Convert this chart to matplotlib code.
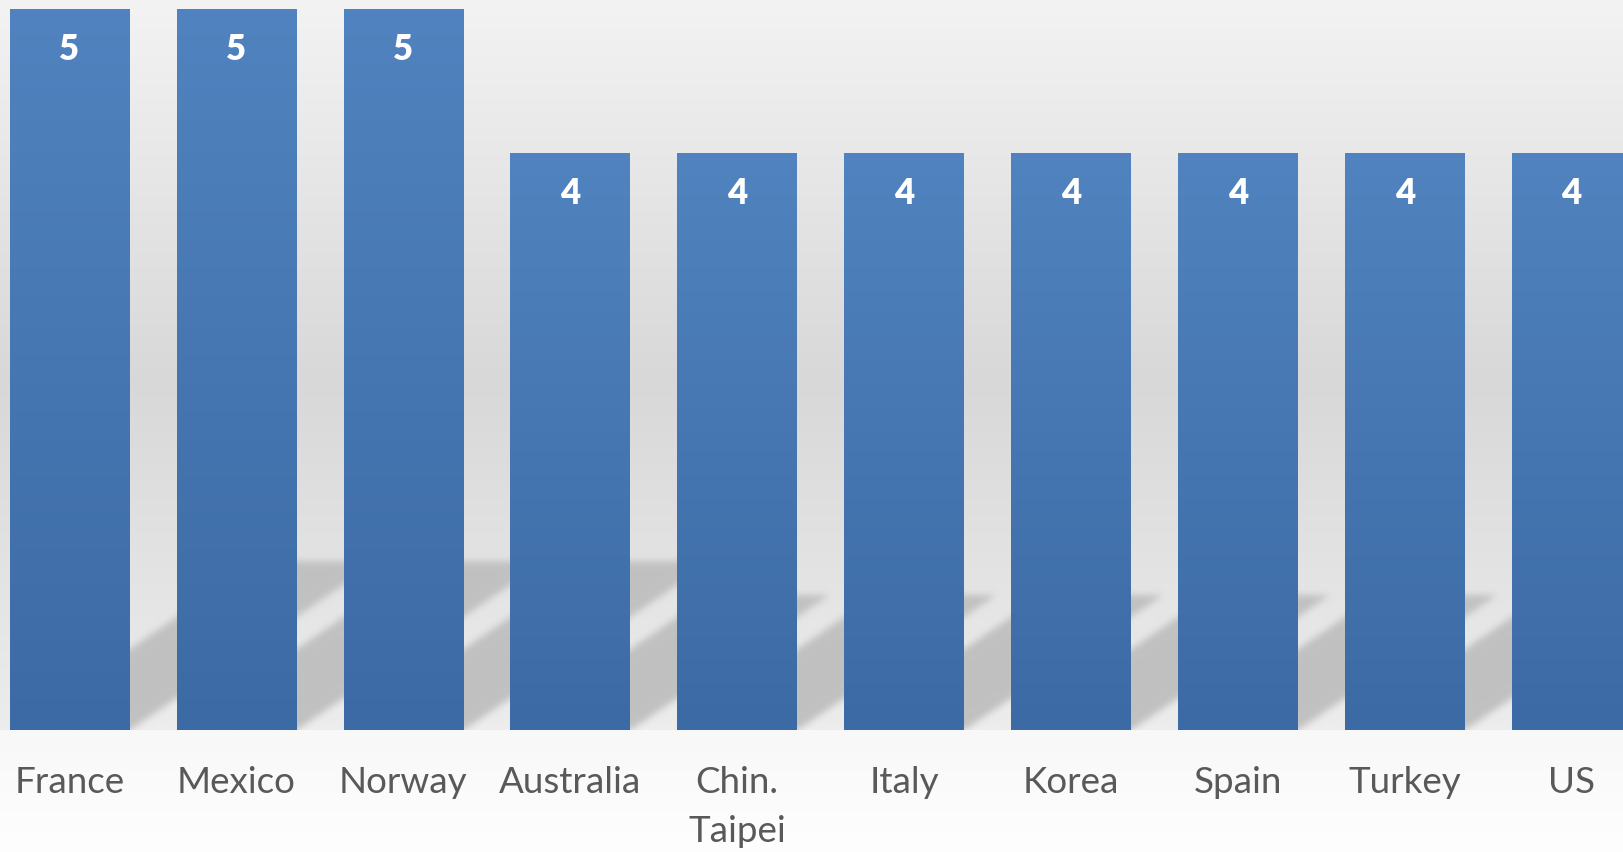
import matplotlib
matplotlib.use("Agg")
import matplotlib.pyplot as plt
import numpy as np

# countries and their counts
countries = ["France", "Mexico", "Norway", "Australia", "Chin.\nTaipei",
             "Italy", "Korea", "Spain", "Turkey", "US"]
counts = [5, 5, 5, 4, 4, 4, 4, 4, 4, 4]

W, H = 1624, 852
fig = plt.figure(figsize=(W / 100, H / 100), dpi=100)
ax = fig.add_axes([0, 0, 1, 1])

x = np.arange(len(countries))
bar_w = 0.716
x0, x1 = -0.4164, 9.314
y0, y1 = -0.842, 5.062
ax.set_xlim(x0, x1)
ax.set_ylim(y0, y1)
ax.axis("off")

# background: grey gradient in the plot area, near white underneath
py = np.arange(H) + 0.5
yd = y1 - py / H * (y1 - y0)
top_px = (y1 - 0) / (y1 - y0) * H
grey = np.where(py < top_px,
                np.interp(py, [0, 380, 720, top_px], [243, 216, 236, 238]),
                np.interp(py, [top_px, H], [248, 254]))
bg = np.repeat(grey[:, None], W, axis=1) / 255.0

# slanted floor shadows behind each bar
px = np.arange(W) + 0.5
xd = x0 + px / W * (x1 - x0)
XX, YY = np.meshgrid(xd, yd)
mask = np.zeros((H, W))
slant = 1.272
for xi, v in zip(x, counts):
    hs = 0.2355 * v
    inside = ((YY >= 0) & (YY <= hs)
              & (XX >= xi - bar_w / 2 + slant * YY)
              & (XX <= xi + bar_w / 2 + slant * YY))
    mask = np.maximum(mask, inside.astype(float))

def blur(a, sigma):
    r = int(3 * sigma)
    k = np.exp(-0.5 * (np.arange(-r, r + 1) / sigma) ** 2)
    k /= k.sum()
    a = np.apply_along_axis(lambda m: np.convolve(m, k, mode="same"), 0, a)
    a = np.apply_along_axis(lambda m: np.convolve(m, k, mode="same"), 1, a)
    return a

mask = blur(mask, 3.5)
mask[YY < 0] = 0
shade = 193 / 255.0
img = bg * (1 - mask) + shade * mask
ax.imshow(np.dstack([img, img, img]), extent=(x0, x1, y0, y1),
          aspect="auto", origin="upper", interpolation="none", zorder=0)

# bars with a vertical blue gradient
bars = ax.bar(x, counts, width=bar_w, color="none", zorder=2)
c_top = np.array([80, 131, 191]) / 255.0
c_bot = np.array([60, 106, 164]) / 255.0
t = np.linspace(0, 1, 256)[:, None]
grad = (c_top * (1 - t) + c_bot * t)[:, None, :]
for b in bars:
    im = ax.imshow(grad, extent=(b.get_x(), b.get_x() + b.get_width(), 0, b.get_height()),
                   aspect="auto", origin="upper", zorder=2)
    im.set_clip_path(b)

for xi, v in zip(x, counts):
    ax.text(xi, v - 0.28, str(v), ha="center", va="center", color="white",
            fontsize=25, fontweight="heavy", family="Lato", zorder=3)

# category names, one text per line
line_step = 49 / 144.3
for xi, name in zip(x, countries):
    for k, line in enumerate(name.split("\n")):
        ax.text(xi, -0.433 - k * line_step, line, ha="center", va="baseline",
                color="#595959", fontsize=26.5, family="Lato", zorder=3)

fig.savefig("out.png", dpi=100)
